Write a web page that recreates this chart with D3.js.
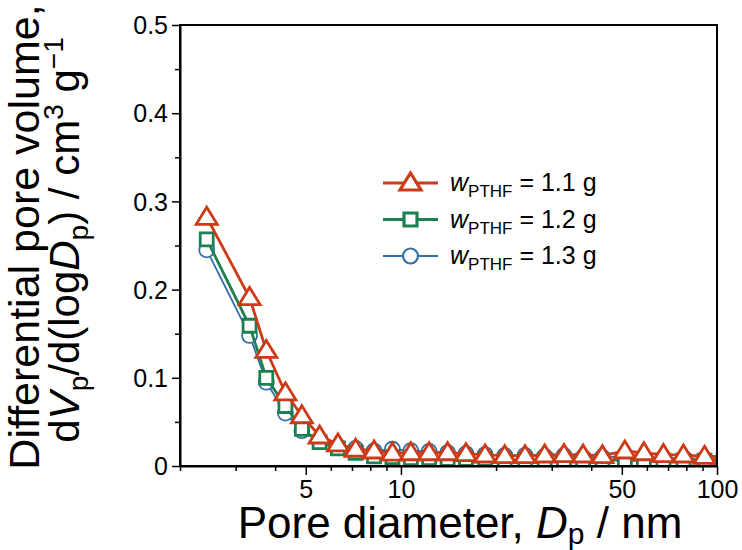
<!DOCTYPE html>
<html>
<head>
<meta charset="utf-8">
<script src="https://cdn.jsdelivr.net/npm/d3@7"></script>
<style>
    body { margin: 0; background: #fff; }
    text { font-family: "Liberation Sans", Arial, sans-serif; fill: #000; }
</style>
</head>
<body>
<div id="chart"></div>
<script>
// Pore diameter bins (nm)
const poreDiameters = [2.43, 3.32, 3.75, 4.31, 4.86, 5.53, 6.32, 7.19, 8.22, 9.40, 10.75, 12.28, 14.05, 16.06,
    18.46, 21.3, 24.7, 28.5, 32.8, 37.7, 43.4, 51.1, 58.7, 67.7, 78.3, 91.3, 105];

// dVp/d(logDp) for each sample
const series11 = [0.282, 0.191, 0.131, 0.083, 0.057, 0.034, 0.025, 0.019, 0.017, 0.0147, 0.015, 0.015, 0.015, 0.014,
    0.0125, 0.0117, 0.0117, 0.0125, 0.013, 0.0125, 0.0117, 0.017, 0.015, 0.013, 0.0125, 0.011, 0.011];
const series12 = [0.257, 0.159, 0.100, 0.068, 0.042, 0.027, 0.020, 0.015, 0.011, 0.010, 0.009, 0.009, 0.008, 0.008,
    0.008, 0.007, 0.007, 0.007, 0.006, 0.006, 0.006, 0.007, 0.006, 0.006, 0.006, 0.006, 0.007];
const series13 = [0.245, 0.148, 0.095, 0.060, 0.040, 0.028, 0.022, 0.020, 0.017, 0.019, 0.0175, 0.0166, 0.015, 0.014,
    0.013, 0.012, 0.012, 0.011, 0.012, 0.010, 0.010, 0.011, 0.010, 0.009, 0.009, 0.008, 0.009];

const seriesLabels = ['1.1 g', '1.2 g', '1.3 g'];

// Tick labels
const xTickValues = [5, 10, 50, 100];
const xMinorTicks = [2, 3, 4, 6, 7, 8, 9, 20, 30, 40, 60, 70, 80, 90];
const yTickValues = [0, 0.1, 0.2, 0.3, 0.4, 0.5];
const yMinorTicks = [0.05, 0.15, 0.25, 0.35, 0.45];

const width = 742;
const height = 550;
const margin = {top: 25, right: 25, bottom: 84, left: 180};

const svg = d3.select('#chart')
    .append('svg')
    .attr('width', width)
    .attr('height', height);

const x = d3.scaleLog()
    .domain([2, 100])
    .range([margin.left, width - margin.right]);

const y = d3.scaleLinear()
    .domain([0, 0.5])
    .range([height - margin.bottom, margin.top]);

// Clip for the points running past 100 nm
svg.append('clipPath')
    .attr('id', 'plot-clip')
    .append('rect')
    .attr('x', margin.left)
    .attr('y', margin.top - 12)
    .attr('width', width - margin.right - margin.left)
    .attr('height', height - margin.bottom - margin.top + 12);

// Marker shapes
const markers = {
    triangle: 'M0,-10L10.5,7L-10.5,7Z',
    square: 'M-6.5,-6.5H6.5V6.5H-6.5Z',
    circle: d3.symbol().type(d3.symbolCircle).size(Math.PI * 7.5 * 7.5)()
};

const seriesList = [
    {values: series13, color: '#336ea6', marker: 'circle', width: 1.8},
    {values: series12, color: '#1c8050', marker: 'square', width: 2.8},
    {values: series11, color: '#cd3a18', marker: 'triangle', width: 2.8}
];

const plot = svg.append('g').attr('clip-path', 'url(#plot-clip)');

const line = d3.line()
    .x(d => x(d[0]))
    .y(d => y(d[1]));

seriesList.forEach(s => {
    const pts = poreDiameters.map((d, i) => [d, s.values[i]]);
    plot.append('path')
        .datum(pts)
        .attr('fill', 'none')
        .attr('stroke', s.color)
        .attr('stroke-width', s.width)
        .attr('d', line);
    plot.selectAll(null)
        .data(pts)
        .enter().append('path')
        .attr('transform', d => `translate(${x(d[0])},${y(d[1])})`)
        .attr('d', markers[s.marker])
        .attr('fill', '#fff')
        .attr('stroke', s.color)
        .attr('stroke-width', s.width);
});

// Frame
svg.append('rect')
    .attr('x', margin.left)
    .attr('y', margin.top)
    .attr('width', width - margin.right - margin.left)
    .attr('height', height - margin.bottom - margin.top)
    .attr('fill', 'none')
    .attr('stroke', '#000')
    .attr('stroke-width', 2);

// X axis
const xAxis = svg.append('g')
    .attr('transform', `translate(0,${height - margin.bottom})`)
    .call(d3.axisBottom(x).tickValues(xTickValues).tickFormat(d3.format('d')).tickSize(9).tickSizeOuter(0));
svg.append('g')
    .attr('transform', `translate(0,${height - margin.bottom})`)
    .call(d3.axisBottom(x).tickValues(xMinorTicks).tickSize(5).tickSizeOuter(0))
    .call(g => g.select('.domain').remove())
    .call(g => g.selectAll('text').remove());

// Y axis
const yAxis = svg.append('g')
    .attr('transform', `translate(${margin.left},0)`)
    .call(d3.axisLeft(y).tickValues(yTickValues).tickFormat(d => d === 0 ? '0' : d3.format('.1f')(d)).tickSize(8).tickSizeOuter(0));
svg.append('g')
    .attr('transform', `translate(${margin.left},0)`)
    .call(d3.axisLeft(y).tickValues(yMinorTicks).tickSize(5).tickSizeOuter(0))
    .call(g => g.select('.domain').remove())
    .call(g => g.selectAll('text').remove());

svg.selectAll('.tick line').attr('stroke', '#000').attr('stroke-width', 1.5);
svg.selectAll('.domain').attr('stroke', '#000').attr('stroke-width', 2);
xAxis.selectAll('.tick text')
    .style('font-size', '25px')
    .attr('dy', 0)
    .attr('y', 32);
yAxis.selectAll('.tick text')
    .style('font-size', '25px')
    .attr('x', -12)
    .attr('dy', '0.35em');

// X axis title
const xTitle = svg.append('text')
    .attr('x', 460)
    .attr('y', 538)
    .attr('text-anchor', 'middle')
    .style('font-size', '44px');
xTitle.append('tspan').text('Pore diameter, ');
xTitle.append('tspan').style('font-style', 'italic').text('D');
xTitle.append('tspan').attr('dy', 6).style('font-size', '30px').text('p');
xTitle.append('tspan').attr('dy', -6).text(' / nm');

// Y axis title, two lines
svg.append('text')
    .attr('transform', 'translate(39,237) rotate(-90)')
    .attr('text-anchor', 'middle')
    .style('font-size', '43px')
    .text('Differential pore volume,');

const yTitle = svg.append('text')
    .attr('transform', 'translate(79,240) rotate(-90)')
    .attr('text-anchor', 'middle')
    .style('font-size', '42px');
yTitle.append('tspan').text('d');
yTitle.append('tspan').style('font-style', 'italic').text('V');
yTitle.append('tspan').attr('dy', 9).style('font-size', '28px').text('p');
yTitle.append('tspan').attr('dy', -9).text('/d(log');
yTitle.append('tspan').style('font-style', 'italic').text('D');
yTitle.append('tspan').attr('dy', 9).style('font-size', '28px').text('p');
yTitle.append('tspan').attr('dy', -9).text(') / cm');
yTitle.append('tspan').attr('dy', -16).style('font-size', '28px').text('3');
yTitle.append('tspan').attr('dy', 16).text(' g');
yTitle.append('tspan').attr('dy', -16).style('font-size', '28px').text('\u22121');

// Legend
const legendRows = [
    {label: seriesLabels[0], s: seriesList[2]},
    {label: seriesLabels[1], s: seriesList[1]},
    {label: seriesLabels[2], s: seriesList[0]}
];

const legend = svg.append('g');
legendRows.forEach((row, i) => {
    const ly = 183 + i * 36.5;
    legend.append('line')
        .attr('x1', 383).attr('x2', 438)
        .attr('y1', ly).attr('y2', ly)
        .attr('stroke', row.s.color)
        .attr('stroke-width', row.s.width + 0.4);
    legend.append('path')
        .attr('transform', `translate(410.5,${ly})`)
        .attr('d', markers[row.s.marker])
        .attr('fill', '#fff')
        .attr('stroke', row.s.color)
        .attr('stroke-width', row.s.width + 0.4);
    const t = legend.append('text')
        .attr('x', 450)
        .attr('y', ly + 8)
        .style('font-size', '25px');
    t.append('tspan').style('font-style', 'italic').text('w');
    t.append('tspan').attr('dy', 6).style('font-size', '17px').text('PTHF');
    t.append('tspan').attr('dy', -6).text(' = ' + row.label);
});
</script>
</body>
</html>
